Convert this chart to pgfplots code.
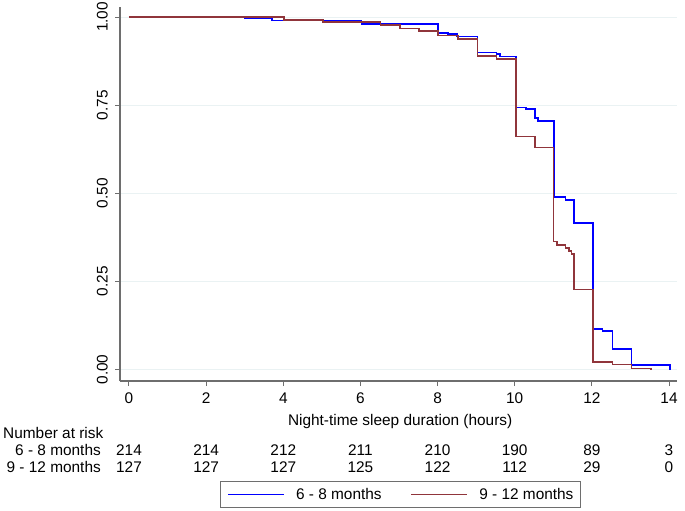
\documentclass[border=0pt]{standalone}
\usepackage{fontspec}
\setmainfont{Liberation Sans}
\usepackage{pgfplots}
\pgfplotsset{compat=1.18}
\definecolor{kmblue}{RGB}{0,0,255}
\definecolor{kmred}{RGB}{144,53,59}
\definecolor{kmgrid}{RGB}{234,242,243}
\definecolor{kmaxis}{RGB}{110,110,110}

\begin{document}
\begin{tikzpicture}[font=\fontsize{15.4pt}{18pt}\selectfont]
\useasboundingbox (0pt,0pt) rectangle (685pt,-511pt);
\begin{axis}[
  at={(120pt,-381pt)}, anchor=south west,
  scale only axis, width=557pt, height=374pt,
  xmin=-0.2333, xmax=14.2074, ymin=-0.0326, ymax=1.0284,
  axis x line=bottom, axis y line=left,
  axis line style={-, draw=kmaxis, line width=1.1pt},
  xtick={0,2,...,14}, ytick={0,0.25,0.5,0.75,1},
  yticklabels={0.00,0.25,0.50,0.75,1.00},
  tick align=outside, major tick length=5pt,
  tick style={draw=kmaxis, line width=1pt},
  ymajorgrids, grid style={draw=kmgrid, line width=1pt},
  /pgf/number format/assume math mode=true,
  xticklabel style={anchor=north, inner sep=0pt, yshift=-6.5pt},
  yticklabel style={rotate=90, anchor=south, inner xsep=0pt, inner ysep=7pt},
  xlabel={Night-time sleep duration (hours)},
  xlabel style={at={(axis description cs:0.503,-0.1096)}, anchor=center, inner sep=0pt},
  legend style={at={(axis description cs:0.1795,-0.2674)}, anchor=north west,
    draw=kmaxis, line width=1pt, inner xsep=7pt, inner ysep=4.75pt,
    nodes={inner xsep=0pt, inner ysep=2pt, text depth=0.15em},
    /tikz/every odd column/.append style={column sep=11pt},
    /tikz/every even column/.append style={column sep=29pt}},
  legend columns=2,
  legend image code/.code={\draw[#1] (0pt,0pt) -- (56pt,0pt);},
  clip=false,
]
\addplot[const plot, draw=kmblue, line width=1.6pt] coordinates {
  (0,1) (3.0,0.996) (3.7,0.990) (6.03,0.981) (8.01,0.955) (8.27,0.951)
  (8.51,0.945) (9.03,0.899) (9.53,0.895) (9.62,0.888) (10.03,0.743)
  (10.30,0.739) (10.52,0.713) (10.60,0.705) (11.02,0.490) (11.32,0.481)
  (11.53,0.415) (12.03,0.115) (12.28,0.109) (12.53,0.058) (13.03,0.012)
  (14.03,0.0)
};
\addlegendentry{6 - 8 months}
\addplot[const plot, draw=kmred, line width=1.6pt] coordinates {
  (0,1) (4.02,0.992) (5.03,0.985) (6.52,0.977) (7.02,0.967) (7.52,0.961)
  (8.01,0.947) (8.53,0.937) (9.03,0.890) (9.53,0.881) (10.03,0.661)
  (10.53,0.630) (11.01,0.363) (11.10,0.353) (11.32,0.345) (11.41,0.337)
  (11.47,0.328) (11.53,0.227) (12.03,0.022) (12.53,0.014) (13.03,0.003)
  (13.53,0.0)
};
\addlegendentry{9 - 12 months}
% number at risk
\addplot[draw=none, mark=none, forget plot, nodes near coords,
  point meta=explicit symbolic,
  every node near coord/.append style={anchor=center, inner sep=0pt}] coordinates {
  (0,-0.2284) [214] (2,-0.2284) [214] (4,-0.2284) [212] (6,-0.2284) [211]
  (8,-0.2284) [210] (10,-0.2284) [190] (12,-0.2284) [89] (14,-0.2284) [3]
};
\addplot[draw=none, mark=none, forget plot, nodes near coords,
  point meta=explicit symbolic,
  every node near coord/.append style={anchor=center, inner sep=0pt}] coordinates {
  (0,-0.2766) [127] (2,-0.2766) [127] (4,-0.2766) [127] (6,-0.2766) [125]
  (8,-0.2766) [122] (10,-0.2766) [112] (12,-0.2766) [29] (14,-0.2766) [0]
};
\node[anchor=west, inner sep=0pt] at (axis cs:-3.267,-0.180) {Number at risk};
\node[anchor=east, inner sep=0pt] at (axis cs:-0.726,-0.2284) {6 - 8 months};
\node[anchor=east, inner sep=0pt] at (axis cs:-0.726,-0.2766) {9 - 12 months};
\end{axis}
\end{tikzpicture}
\end{document}
